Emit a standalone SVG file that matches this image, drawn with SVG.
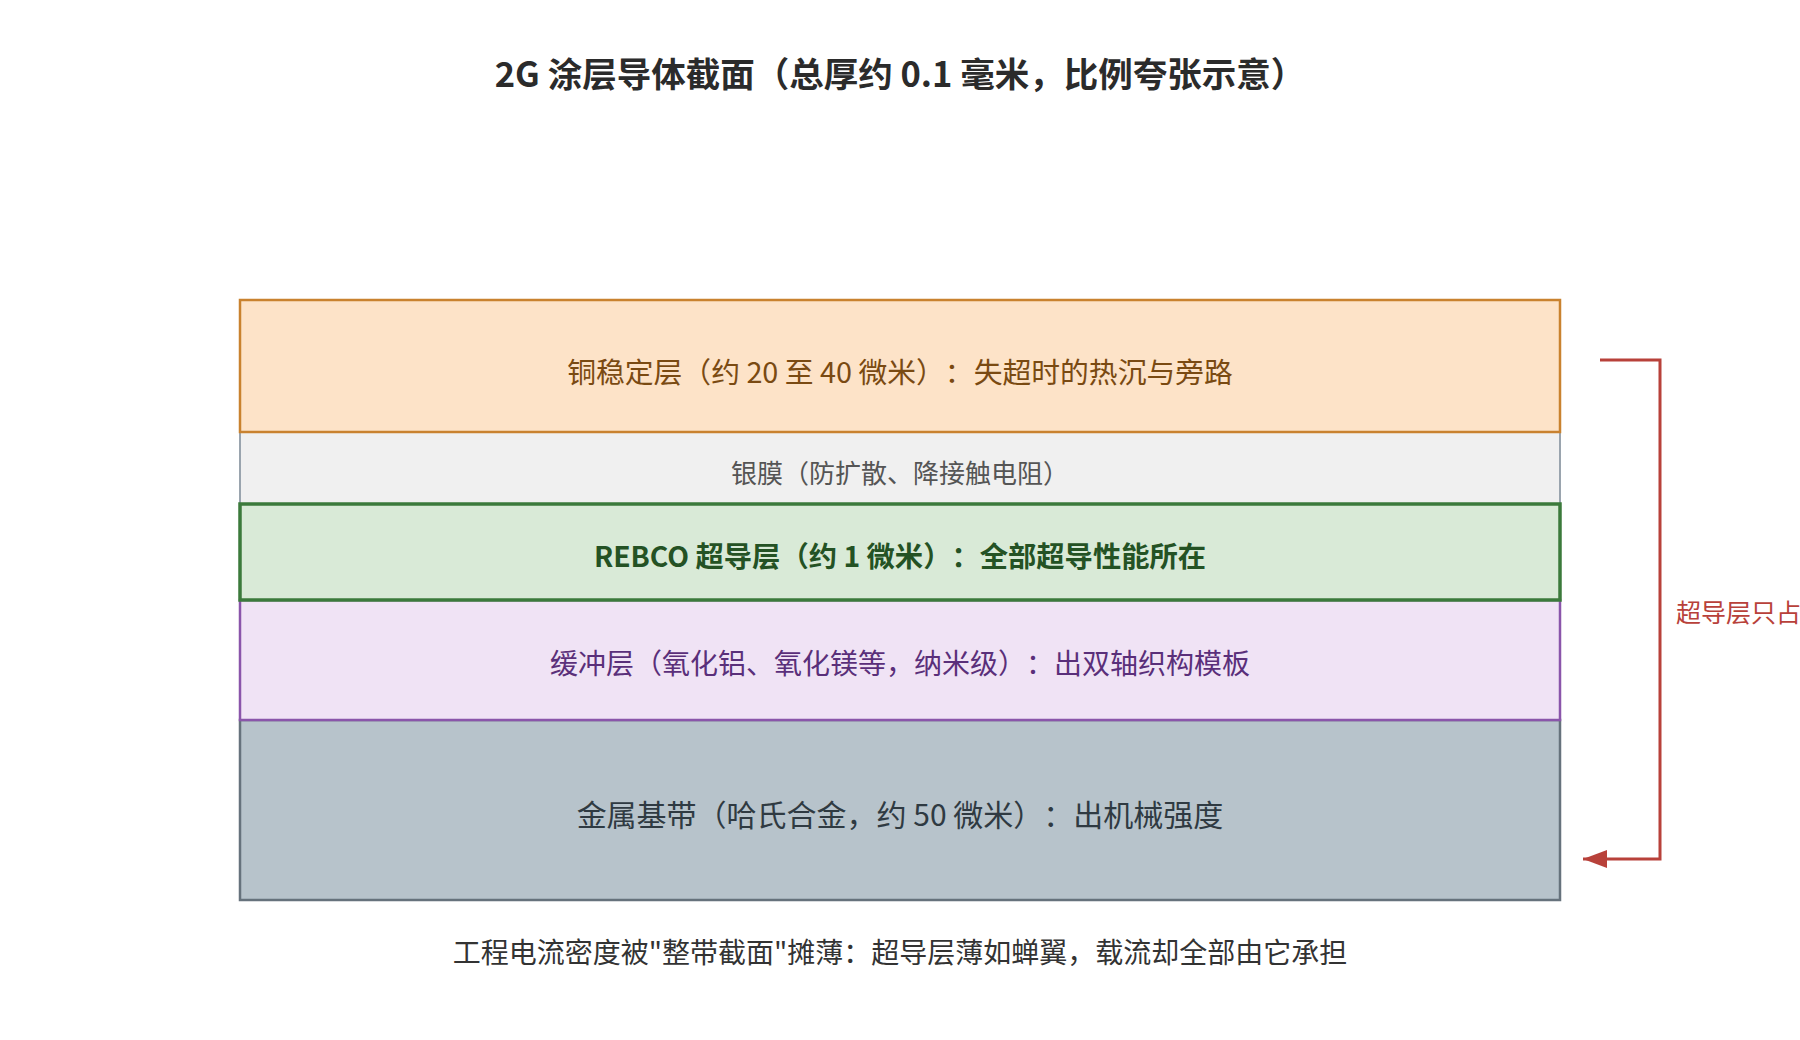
<svg xmlns="http://www.w3.org/2000/svg" width="1800" height="1040" viewBox="0 0 1800 1040">
<defs>
<style>
text{font-family:"Noto Sans CJK SC","Noto Sans",sans-serif;text-anchor:middle;dominant-baseline:central;text-spacing-trim:space-all}
.title{font-size:34.5px;font-weight:700;fill:#2b2b2b}
.lbl{font-size:28px}
.note{font-size:28px;fill:#333333}
</style>
<marker id="arr" markerUnits="userSpaceOnUse" markerWidth="26" markerHeight="20" refX="24" refY="9" orient="auto">
<path d="M0,0 L24,9 L0,18 z" fill="#b8413a"/>
</marker>
</defs>
<rect width="1800" height="1040" fill="#ffffff"/>
<text class="title" x="900" y="72">2G 涂层导体截面（总厚约 0.1 毫米，比例夸张示意）</text>
<g id="substrate">
<rect x="240" y="720" width="1320" height="180" fill="#b7c3cb" stroke="#66727c" stroke-width="2.5"/>
<text class="lbl" x="900" y="813" style="font-size:30px" fill="#2f3a42">金属基带（哈氏合金，约 50 微米）：出机械强度</text>
</g>
<g id="buffer">
<rect x="240" y="600" width="1320" height="120" fill="#f0e3f5" stroke="#8a55aa" stroke-width="2.5"/>
<text class="lbl" x="900" y="662" fill="#5a2f7a">缓冲层（氧化铝、氧化镁等，纳米级）：出双轴织构模板</text>
</g>
<g id="silver">
<rect x="240" y="432" width="1320" height="72" fill="#f0f0f0" stroke="#9aa4ae" stroke-width="2"/>
<text class="lbl" x="900" y="471" style="font-size:26px" fill="#555555">银膜（防扩散、降接触电阻）</text>
</g>
<g id="copper">
<rect x="240" y="300" width="1320" height="132" fill="#fde3c8" stroke="#c9822f" stroke-width="2.5"/>
<text class="lbl" x="900" y="370" style="font-size:28.8px" fill="#7a4a12">铜稳定层（约 20 至 40 微米）：失超时的热沉与旁路</text>
</g>
<g id="rebco">
<rect x="240" y="504" width="1320" height="96" fill="#d9ead7" stroke="#3b7a3b" stroke-width="3.5"/>
<text class="lbl" x="900" y="554" font-weight="700" style="font-size:28.3px" fill="#245224">REBCO 超导层（约 1 微米）：全部超导性能所在</text>
</g>
<g id="connectors">
<path d="M1600,360 H1660 V859 H1583" fill="none" stroke="#b8413a" stroke-width="3" marker-end="url(#arr)"/>
<text x="1676" y="611" style="font-size:25px;text-anchor:start" fill="#b8413a">超导层只占</text>
</g>
<text class="note" x="900" y="951">工程电流密度被"整带截面"摊薄：超导层薄如蝉翼，载流却全部由它承担</text>
</svg>
